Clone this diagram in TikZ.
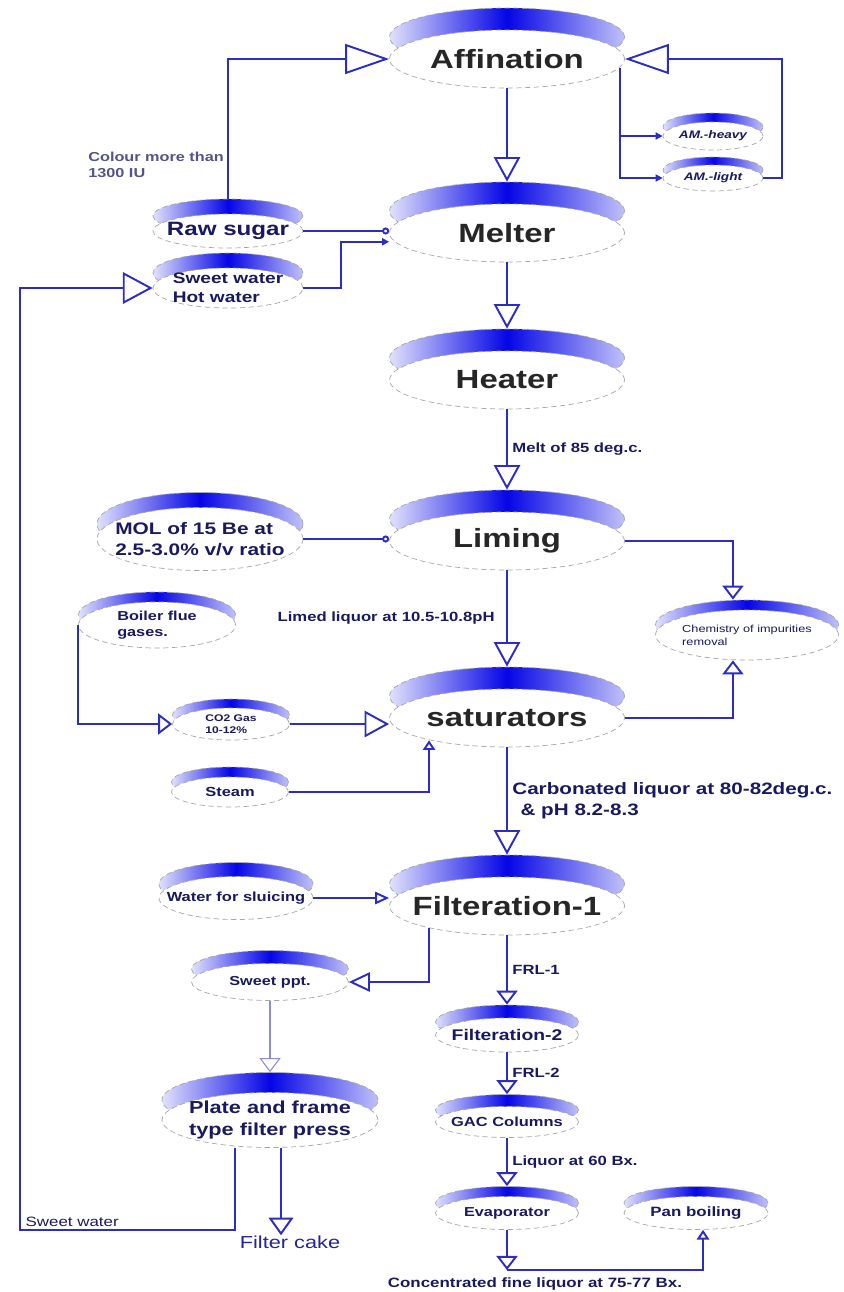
\documentclass[tikz,border=0pt]{standalone}
\usepackage{fontspec}
\setmainfont{Liberation Sans}[FakeStretch=1.25]
\linespread{1.25}
\usetikzlibrary{arrows.meta,shapes.geometric}
\definecolor{flowblue}{RGB}{45,45,195}
\definecolor{navy}{RGB}{25,25,95}
\definecolor{discblue}{RGB}{5,5,230}
\tikzset{
  tub/.style n args={3}{ellipse, draw=gray!70, densely dashed, fill=white, inner sep=0pt,
    minimum width=#1*0.02cm, minimum height=#2*0.02cm,
    preaction={draw=gray!70, densely dashed, left color=discblue!12, right color=discblue!25,
      middle color=discblue, transform canvas={yshift=#3*0.02cm}}},
  txt/.style={font=\fontsize{#1}{#1}\selectfont\bfseries, text=navy, inner sep=0pt, align=left},
  plain/.style={font=\fontsize{#1}{#1}\selectfont, text=navy, inner sep=0pt, align=left},
  head/.style={txt=15, text=black!85},
  lbl/.style={txt=7.6, inner sep=2.5pt},
  flow/.style={draw=flowblue, line width=1.1pt},
  thinflow/.style={draw=flowblue!55, line width=0.6pt},
  tipbig/.style={-{Triangle[open, length=25pt, width=17pt]}},
  tipret/.style={-{Triangle[open, length=17pt, width=18pt]}},
  tipmain/.style={-{Triangle[open, length=14pt, width=15pt]}},
  tipcake/.style={-{Triangle[open, length=10pt, width=14pt]}},
  tipside/.style={-{Triangle[open, length=12pt, width=11pt]}},
  tipmid/.style={-{Triangle[open, length=8pt, width=12pt]}},
  tipsm/.style={-{Triangle[open, length=8pt, width=7pt]}},
  tiptiny/.style={-{Triangle[open, length=5.5pt, width=7pt]}},
  tipfill/.style={-{Triangle[length=4pt, width=4pt]}},
  tipdot/.style={-{Circle[open, length=4pt]}}
}

\begin{document}
\begin{tikzpicture}[x=0.02cm, y=-0.02cm]
  \useasboundingbox (0,0) rectangle (844,1292);

  % main line of the refinery
  \node[tub={235}{58}{22}] (aff) at (507,59) {};
  \node[head] (aff-t) at (aff) {Affination};
  \node[tub={235}{58}{22}] (mel) at (507,233) {};
  \node[head] (mel-t) at (mel) {Melter};
  \node[tub={235}{58}{22}] (heat) at (507,380) {};
  \node[head] (heat-t) at (heat) {Heater};
  \node[tub={235}{58}{22}] (lim) at (507,541) {};
  \node[head] (lim-t) at (lim) {Liming};
  \node[tub={235}{58}{22}] (sat) at (507,718) {};
  \node[head] (sat-t) at (sat) {saturators};
  \node[tub={235}{58}{22}] (fil1) at (507,906) {};
  \node[head] (fil1-t) at (fil1) {Filteration-1};

  % side streams
  \node[tub={100}{28}{9}] (amh) at (713,136) {};
  \node[txt=6.2, font=\fontsize{6.2}{6.2}\selectfont\bfseries\itshape] (amh-t) at (amh) {AM.-heavy};
  \node[tub={100}{26}{8}] (aml) at (713,178) {};
  \node[txt=6.2, font=\fontsize{6.2}{6.2}\selectfont\bfseries\itshape] (aml-t) at (aml) {AM.-light};
  \node[tub={150}{34}{15}] (raw) at (228,231) {};
  \node[txt=11] (raw-t) at (raw) {Raw sugar};
  \node[tub={150}{40}{15}] (swt) at (228,288) {};
  \node[txt=8.7] (swt-t) at (swt) {Sweet water\\Hot water};
  \node[tub={206}{63}{15}] (mol) at (200,539) {};
  \node[txt=9.5] (mol-t) at (mol) {MOL of 15 Be at\\2.5-3.0\% v/v ratio};
  \node[tub={183}{50}{10}] (chem) at (747,635) {};
  \node[plain=5.8] (chem-t) at (chem) {Chemistry of impurities\\removal};
  \node[tub={157}{46}{10}] (boil) at (157,625) {};
  \node[txt=7.4] (boil-t) at (boil) {Boiler flue\\gases.};
  \node[tub={117}{32}{9}] (co2) at (231,724) {};
  \node[txt=5.5] (co2-t) at (co2) {CO2 Gas\\10-12\%};
  \node[tub={117}{30}{10}] (stm) at (230,792) {};
  \node[txt=7.5] (stm-t) at (stm) {Steam};
  \node[tub={154}{43}{14}] (wat) at (236,898) {};
  \node[txt=7.5] (wat-t) at (wat) {Water for sluicing};
  \node[tub={157}{37}{13}] (sppt) at (270,982) {};
  \node[txt=7.4] (sppt-t) at (sppt) {Sweet ppt.};
  \node[tub={216}{55}{20}] (plate) at (270,1120) {};
  \node[txt=9.9, align=center] (plate-t) at (plate) {Plate and frame\\type filter press};
  \node[tub={143}{34}{13}] (fil2) at (507,1035) {};
  \node[txt=8.8] (fil2-t) at (fil2) {Filteration-2};
  \node[tub={143}{31}{12}] (gac) at (507,1122) {};
  \node[txt=7.5] (gac-t) at (gac) {GAC Columns};
  \node[tub={143}{33}{10}] (evap) at (507,1213) {};
  \node[txt=7.4] (evap-t) at (evap) {Evaporator};
  \node[tub={144}{33}{10}] (pan) at (696,1213) {};
  \node[txt=7.7] (pan-t) at (pan) {Pan boiling};

  % free texts
  \node[txt=7.4, text=navy!75, anchor=west] (colour) at (88,165) {Colour more than\\1300 IU};
  \coordinate (ret) at (20,1230);
  \coordinate (conc) at (507,1270);
  \node[plain=7.7, anchor=south west, xshift=3pt, yshift=2pt] (swlab) at (ret) {Sweet water};
  \node[plain=9.9, text=flowblue!80!black] (cake) at (290,1242) {Filter cake};
  \node[txt=7.7] (conclab) at (535,1284) {Concentrated fine liquor at 75-77 Bx.};

  % connectors
  \draw[flow, tipbig] ([yshift=0.3cm]raw.north) |- (aff.west);
  \draw[flow, tipfill] ([xshift=-3pt, yshift=-5pt]aff.east) |- (amh.west);
  \draw[flow, tipfill] ([xshift=-3pt, yshift=-5pt]aff.east) |- (aml.west);
  \draw[flow, tipbig] (aml.east) -- ++(19,0) |- (aff.east);
  \draw[flow, tipmain] (aff.south) -- ([yshift=0.44cm]mel.north);
  \draw[flow, tipdot] (raw.east) -- (raw.east -| mel.west);
  \draw[flow, tipfill] (swt.east) -- ++(38,0) |- ([yshift=-5pt]mel.west);
  \draw[flow, tipmain] (mel.south) -- ([yshift=0.44cm]heat.north);
  \draw[flow, tipmain] (heat.south) -- ([yshift=0.44cm]lim.north)
    node[lbl, midway, right] (melt) {Melt of 85 deg.c.};
  \draw[flow, tipdot] (mol.east) -- (mol.east -| lim.west);
  \draw[flow, tipmid] (lim.east) -| ([xshift=-8pt, yshift=0.2cm]chem.north);
  \draw[flow, tipmain] (lim.south) -- ([yshift=0.44cm]sat.north)
    node[lbl, midway, left, xshift=-4pt] (limed) {Limed liquor at 10.5-10.8pH};
  \draw[flow, tipmid] (boil.west) |- (co2.west);
  \draw[flow, tipmain] (co2.east) -- (co2.east -| sat.west);
  \draw[flow, tiptiny] (stm.east) -| ([xshift=-1.56cm, yshift=4pt]sat.south);
  \draw[flow, tipmid] (sat.east) -| ([xshift=-8pt]chem.south);
  \draw[flow, tipmain] (sat.south) -- ([yshift=0.44cm]fil1.north)
    node[txt=9.4, inner sep=2.5pt, midway, right] (carb) {Carbonated liquor at 80-82deg.c.\\\hspace*{0.5em}\& pH 8.2-8.3};
  \draw[flow, tipsm] (wat.east) -- (wat.east -| fil1.west);
  \draw[flow, tipside] ([xshift=-1.56cm, yshift=4pt]fil1.south) |- (sppt.east);
  \draw[thinflow, tipmid] (sppt.south) -- ([yshift=0.4cm]plate.north);
  \draw[flow, tipret] ([xshift=-0.7cm]plate.south) |- (ret) |- (swt.west);
  \draw[flow, tipcake] ([xshift=0.22cm]plate.south) -- ([xshift=0.22cm]plate.south |- cake.north);
  \draw[flow, tipmid] (fil1.south) -- ([yshift=0.26cm]fil2.north)
    node[lbl, midway, right] (frl1) {FRL-1};
  \draw[flow, tipmid] (fil2.south) -- ([yshift=0.24cm]gac.north)
    node[lbl, midway, right] (frl2) {FRL-2};
  \draw[flow, tipmid] (gac.south) -- ([yshift=0.2cm]evap.north)
    node[lbl, midway, right] (liq) {Liquor at 60 Bx.};
  \draw[flow, tipmid] (evap.south) -- (conc);
  \draw[flow, tiptiny] (conc) -| ([xshift=4pt]pan.south);
\end{tikzpicture}
\end{document}
